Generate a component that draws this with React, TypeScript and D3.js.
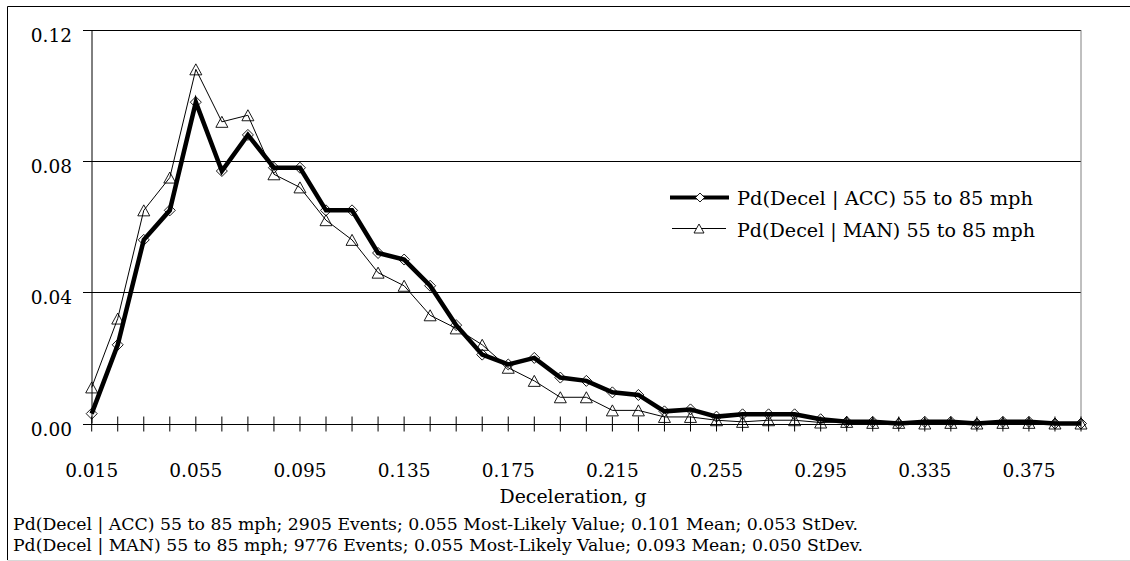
import React from "react";
import * as d3 from "d3";

const categories = ["0.015","0.025","0.035","0.045","0.055","0.065","0.075","0.085","0.095","0.105","0.115","0.125","0.135","0.145","0.155","0.165","0.175","0.185","0.195","0.205","0.215","0.225","0.235","0.245","0.255","0.265","0.275","0.285","0.295","0.305","0.315","0.325","0.335","0.345","0.355","0.365","0.375","0.385","0.395"];
const tickLabels = ["0.015","0.055","0.095","0.135","0.175","0.215","0.255","0.295","0.335","0.375"];
const accValues = [0.003,0.024,0.056,0.065,0.098,0.077,0.088,0.078,0.078,0.065,0.065,0.052,0.050,0.042,0.030,0.021,0.018,0.020,0.014,0.013,0.0095,0.0087,0.0037,0.0043,0.0021,0.0028,0.0028,0.0028,0.0013,0.0005,0.0005,0.0,0.0005,0.0005,0.0,0.0005,0.0005,0.0,0.0];
const manValues = [0.011,0.032,0.065,0.075,0.108,0.092,0.094,0.076,0.072,0.062,0.056,0.046,0.042,0.033,0.029,0.024,0.017,0.013,0.008,0.008,0.004,0.004,0.002,0.002,0.001,0.0005,0.001,0.001,0.0003,0.0005,0.0002,0.0002,0.0,0.0002,0.0,0.0002,0.0002,0.0,0.0];
const yTicks = [0, 0.04, 0.08, 0.12];
const yTickLabels = ["0.00", "0.04", "0.08", "0.12"];
const accName = "Pd(Decel | ACC) 55 to 85 mph";
const manName = "Pd(Decel | MAN) 55 to 85 mph";
const xTitle = "Deceleration, g";
const noteLines = [
  "Pd(Decel | ACC) 55 to 85 mph; 2905 Events; 0.055 Most-Likely Value; 0.101 Mean; 0.053 StDev.",
  "Pd(Decel | MAN) 55 to 85 mph; 9776 Events; 0.055 Most-Likely Value; 0.093 Mean; 0.050 StDev.",
];

const W = 1130, H = 561;
const left = 91.7, right = 1081, top = 30, bottom = 423.5;
const FONT = '"DejaVu Serif", "Liberation Serif", serif';

function diamondPath(cx: number, cy: number, r: number) {
  return `M${cx},${cy - r}L${cx + r},${cy}L${cx},${cy + r}L${cx - r},${cy}Z`;
}
function trianglePath(cx: number, cy: number, w: number, h: number) {
  return `M${cx},${cy - h / 2}L${cx + w / 2},${cy + h / 2}L${cx - w / 2},${cy + h / 2}Z`;
}

const ts: React.CSSProperties = { fontFamily: FONT };

export default function App() {
  const x = d3.scalePoint<string>().domain(categories).range([left, right]).padding(0);
  const y = d3.scaleLinear().domain([0, 0.12]).range([bottom, top]);
  const line = d3.line<number>().x((_, i) => x(categories[i]) as number).y((d) => y(d));

  return (
    <div style={{ position: "absolute", left: 0, top: 0 }}>
      <svg width={W} height={H} style={{ display: "block", background: "#fff", fontFamily: FONT }}>
        <rect x={0} y={0} width={W} height={H} fill="#fff" />
        <line x1={7.5} y1={6.5} x2={W + 2} y2={6.5} stroke="#000" />
        <line x1={7.5} y1={6.5} x2={7.5} y2={560} stroke="#000" />
        <line x1={7.5} y1={560.5} x2={W} y2={560.5} stroke="#d8d8d8" />

        {yTicks.filter((t) => t > 0).map((t) => (
          <line key={t} x1={left} x2={right} y1={Math.round(y(t)) + 0.5} y2={Math.round(y(t)) + 0.5} stroke="#000" />
        ))}
        <line x1={right} x2={right} y1={top} y2={bottom} stroke="#808080" />
        <line x1={92} x2={92} y1={top} y2={bottom} stroke="#000" />
        {yTicks.map((t, i) => (
          <g key={"yt" + t}>
            <line x1={83} x2={92} y1={Math.round(y(t)) + 0.5} y2={Math.round(y(t)) + 0.5} stroke="#000" />
            <text style={ts} x={72} y={y(t) + 12} textAnchor="end" fontSize={18.5} fill="#000">{yTickLabels[i]}</text>
          </g>
        ))}
        <line x1={left} x2={right} y1={Math.round(bottom) + 0.5} y2={Math.round(bottom) + 0.5} stroke="#000" />
        {categories.map((c) => (
          <line key={"xt" + c} x1={x(c)} x2={x(c)} y1={416.5} y2={431.5} stroke="#000" />
        ))}
        {tickLabels.map((c) => (
          <text style={ts} key={"xl" + c} x={x(c)} y={476.5} textAnchor="middle" fontSize={18.5} fill="#000">{c}</text>
        ))}
        <text style={ts} x={573} y={503} textAnchor="middle" fontSize={19} textLength={147} lengthAdjust="spacingAndGlyphs" fill="#000">{xTitle}</text>

        <path d={line(accValues) || ""} fill="none" stroke="#000" strokeWidth={4.5} strokeLinejoin="miter" strokeMiterlimit={4} />
        {accValues.map((v, i) => (
          <path key={"am" + i} d={diamondPath(x(categories[i]) as number, y(v), 5.5)} fill="none" stroke="#000" strokeWidth={0.9} />
        ))}
        <path d={line(manValues) || ""} fill="none" stroke="#000" strokeWidth={1} />
        {manValues.map((v, i) => (
          <path key={"mm" + i} d={trianglePath(x(categories[i]) as number, y(v), 12, 11)} fill="none" stroke="#000" strokeWidth={0.9} />
        ))}

        <line x1={670} x2={729} y1={197.5} y2={197.5} stroke="#000" strokeWidth={4} />
        <path d={diamondPath(700, 197.5, 4.5)} fill="#fff" stroke="#000" strokeWidth={0.9} />
        <text style={ts} x={737} y={205} fontSize={18.5} textLength={296} lengthAdjust="spacingAndGlyphs" fill="#000">{accName}</text>
        <line x1={672} x2={726} y1={228.5} y2={228.5} stroke="#000" strokeWidth={1} />
        <path d={trianglePath(699, 228.5, 10, 9)} fill="#fff" stroke="#000" strokeWidth={0.9} />
        <text style={ts} x={737} y={236.5} fontSize={18.5} textLength={298} lengthAdjust="spacingAndGlyphs" fill="#000">{manName}</text>

        <text style={ts} x={13} y={529.5} fontSize={17} textLength={845} lengthAdjust="spacingAndGlyphs" fill="#000">{noteLines[0]}</text>
        <text style={ts} x={13} y={551} fontSize={17} textLength={850} lengthAdjust="spacingAndGlyphs" fill="#000">{noteLines[1]}</text>
      </svg>
    </div>
  );
}
